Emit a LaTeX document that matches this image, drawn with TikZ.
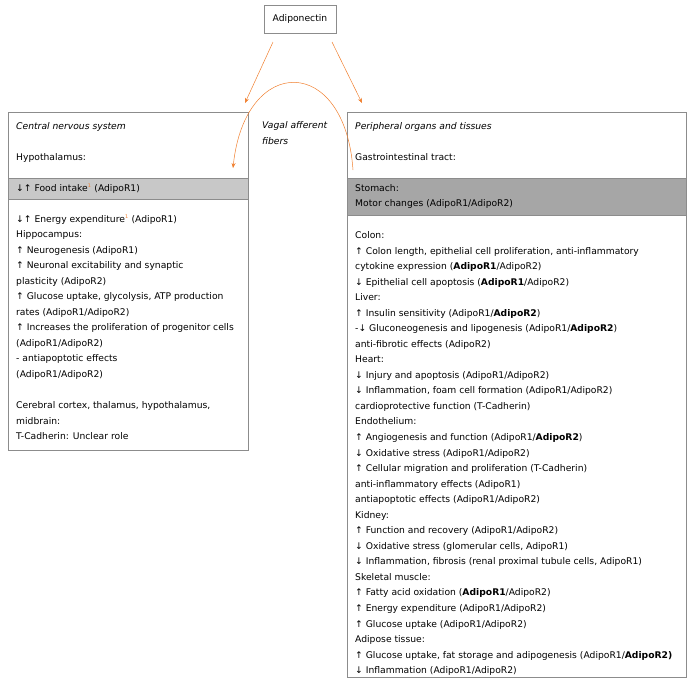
\documentclass[tikz,border=0pt]{standalone}
\usepackage{fontspec}
\setmainfont{DejaVu Sans}
\usetikzlibrary{arrows.meta}
\definecolor{arr}{HTML}{F07F2E}
\definecolor{boxline}{HTML}{8C8C8C}
\definecolor{bandA}{HTML}{C8C8C8}
\definecolor{bandB}{HTML}{A6A6A6}
\newcommand\supone{\textsuperscript{\textcolor{arr}{\fontsize{5}{5}\selectfont 1}}}
\newcommand\tfont{\fontsize{9.2}{11}\selectfont}
\begin{document}
\begin{tikzpicture}[x=1pt,y=-1pt,
  txt/.style={anchor=base west,inner sep=0pt,font=\tfont},
  itxt/.style={txt,font=\tfont\itshape},
  panel/.style={draw=boxline,line width=0.6pt},
  conn/.style={draw=arr,line width=0.5pt,-{Stealth[length=5pt,width=4pt]}}]
\useasboundingbox (0,0) rectangle (692,691);
% title box
\node[draw=boxline,line width=0.6pt,minimum width=72pt,minimum height=28pt,inner sep=0pt,font=\tfont] (adip) at (300,19) {Adiponectin};
% panels
\fill[bandA] (8,178) rectangle (248,199);
\fill[bandB] (347,178) rectangle (686,215);
\draw[boxline,line width=0.6pt] (8,178) -- (248,178) (8,199) -- (248,199);
\draw[boxline,line width=0.6pt] (347,178) -- (686,178) (347,215) -- (686,215);
\node[panel,anchor=north west,minimum width=240pt,minimum height=338pt,inner sep=0pt] (cns) at (8,112) {};
\node[panel,anchor=north west,minimum width=339pt,minimum height=565pt,inner sep=0pt] (per) at (347,112) {};
% connectors
\coordinate (s1) at (273,42);
\coordinate (e1) at (245,103);
\coordinate (s2) at (332,42);
\coordinate (e2) at (362,103);
\coordinate (vs) at (353,170);
\coordinate (ve) at (233,168);
\draw[conn] (s1) -- (e1);
\draw[conn] (s2) -- (e2);
\draw[conn] (vs) .. controls (345,54) and (245,54) .. (ve);
\node[itxt] (vag1) at (262,128) {Vagal afferent};
\node[itxt] (vag2) at (262,144) {fibers};
% left text
\node[itxt] (l1) at (16,129) {Central nervous system};
\node[txt] (l2) at (16,160) {Hypothalamus:};
\node[txt] (l3) at (16,191) {↓↑ Food intake\supone{} (AdipoR1)};
\node[txt] (l4) at (16,222) {↓↑ Energy expenditure\supone{} (AdipoR1)};
\foreach \k/\t in {0/{Hippocampus:},
  1/{↑ Neurogenesis (AdipoR1)},
  2/{↑ Neuronal excitability and synaptic},
  3/{plasticity (AdipoR2)},
  4/{↑ Glucose uptake, glycolysis, ATP production},
  5/{rates (AdipoR1/AdipoR2)},
  6/{↑ Increases the proliferation of progenitor cells},
  7/{(AdipoR1/AdipoR2)},
  8/{- antiapoptotic effects},
  9/{(AdipoR1/AdipoR2)},
  11/{Cerebral cortex, thalamus, hypothalamus,},
  12/{midbrain:},
  13/{T-Cadherin: Unclear role}}
  {\node[txt] (lk\k) at (16,{237.5+15.55*\k}) {\t};}
% right text
\node[itxt] (r1) at (355,129) {Peripheral organs and tissues};
\node[txt] (r2) at (355,160) {Gastrointestinal tract:};
\node[txt] (r3) at (355,191) {Stomach:};
\node[txt] (r4) at (355,206) {Motor changes (AdipoR1/AdipoR2)};
\foreach \k/\t in {0/{Colon:},
  1/{↑ Colon length, epithelial cell proliferation, anti-inflammatory},
  2/{cytokine expression (\textbf{AdipoR1}/AdipoR2)},
  3/{↓ Epithelial cell apoptosis (\textbf{AdipoR1}/AdipoR2)},
  4/{Liver:},
  5/{↑ Insulin sensitivity (AdipoR1/\textbf{AdipoR2})},
  6/{-↓ Gluconeogenesis and lipogenesis (AdipoR1/\textbf{AdipoR2})},
  7/{anti-fibrotic effects (AdipoR2)},
  8/{Heart:},
  9/{↓ Injury and apoptosis (AdipoR1/AdipoR2)},
  10/{↓ Inflammation, foam cell formation (AdipoR1/AdipoR2)},
  11/{cardioprotective function (T-Cadherin)},
  12/{Endothelium:},
  13/{↑ Angiogenesis and function (AdipoR1/\textbf{AdipoR2})},
  14/{↓ Oxidative stress (AdipoR1/AdipoR2)},
  15/{↑ Cellular migration and proliferation (T-Cadherin)},
  16/{anti-inflammatory effects (AdipoR1)},
  17/{antiapoptotic effects (AdipoR1/AdipoR2)},
  18/{Kidney:},
  19/{↑ Function and recovery (AdipoR1/AdipoR2)},
  20/{↓ Oxidative stress (glomerular cells, AdipoR1)},
  21/{↓ Inflammation, fibrosis (renal proximal tubule cells, AdipoR1)},
  22/{Skeletal muscle:},
  23/{↑ Fatty acid oxidation (\textbf{AdipoR1}/AdipoR2)},
  24/{↑ Energy expenditure (AdipoR1/AdipoR2)},
  25/{↑ Glucose uptake (AdipoR1/AdipoR2)},
  26/{Adipose tissue:},
  27/{↑ Glucose uptake, fat storage and adipogenesis (AdipoR1/\textbf{AdipoR2)}},
  28/{↓ Inflammation (AdipoR1/AdipoR2)}}
  {\node[txt] (rk\k) at (355,{238.5+15.54*\k}) {\t};}
\end{tikzpicture}
\end{document}
